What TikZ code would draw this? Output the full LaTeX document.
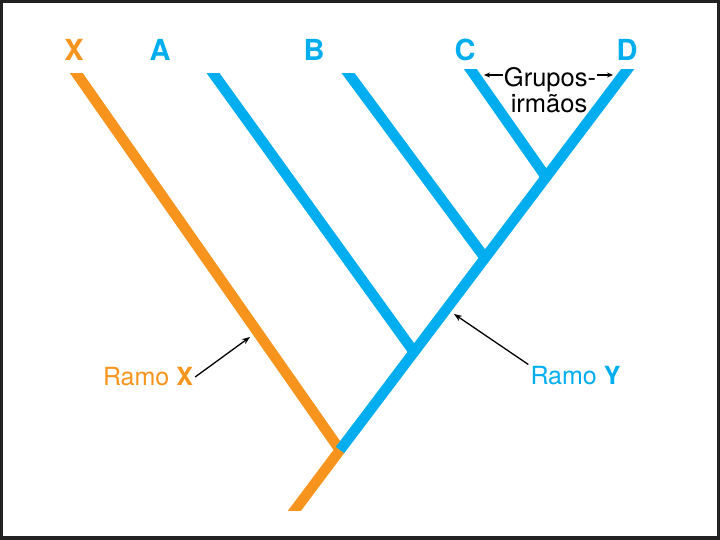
\documentclass[tikz,border=0pt]{standalone}
\usepackage{fontspec}
\setmainfont{TeX Gyre Heros}
\usetikzlibrary{arrows.meta,calc}
\definecolor{orX}{HTML}{F7941D}
\definecolor{blY}{HTML}{00AEEF}
\definecolor{framec}{HTML}{222222}
\begin{document}
\begin{tikzpicture}[x=1pt,y=-1pt,
  branch/.style={line width=10.5pt, line cap=butt},
  lbl/.style={font=\fontsize{29}{34}\selectfont\bfseries, inner sep=0pt},
  ramo/.style={font=\fontsize{25}{30}\selectfont, inner sep=2pt},
  grp/.style={font=\fontsize{25.5}{27}\selectfont, inner sep=1pt},
  pointer/.style={line width=1.3pt, -{Stealth[length=8pt,width=6pt]}},
  smallptr/.style={line width=1.1pt, -{Stealth[length=6pt,width=5pt]}}
]
\useasboundingbox (0,0) rectangle (720,540);
\fill[framec] (0,0) rectangle (720,540);
\fill[white] (3,3) rectangle (717,536);

\coordinate (Xt) at (67.2,60);
\coordinate (J) at (340,450);
\coordinate (R) at (287.5,520);
\coordinate (At) at (203.6,60);
\coordinate (Aj) at (414,352);
\coordinate (Bt) at (338.4,60);
\coordinate (Bj) at (485,258);
\coordinate (Ct) at (464,60);
\coordinate (Cj) at (546,177);
\coordinate (Dt) at (634.5,60);

\begin{scope}
  \clip (0,73.5) rectangle (720,510);
  \draw[branch, orX, line join=round] (Xt) -- (J) -- (R);
  \draw[branch, blY] (At) -- (Aj);
  \draw[branch, blY] (Bt) -- (Bj);
\end{scope}
\begin{scope}
  \clip (0,70) rectangle (720,510);
  \draw[branch, blY] (Ct) -- (Cj);
  \draw[branch, blY] (J) -- (Dt);
\end{scope}

\node[lbl, orX] (lX) at (74,50) {X};
\node[lbl, blY] (lA) at (160,50) {A};
\node[lbl, blY] (lB) at (314,50) {B};
\node[lbl, blY] (lC) at (465,50) {C};
\node[lbl, blY] (lD) at (627,50) {D};

\node[grp, anchor=base] (g1) at (550,87) {Grupos-};
\node[grp, anchor=base] (g2) at (549,113) {irmãos};
\coordinate (gl) at (484,75);
\coordinate (gr) at (613,75);
\draw[smallptr] (g1.west |- gl) -- (gl);
\draw[smallptr] (g1.east |- gr) -- (gr);

\node[ramo, orX] (rX) at (148,377) {Ramo \textbf{X}};
\coordinate (tX) at (250,337);
\draw[pointer] (rX.east) -- (tX);

\node[ramo, blY] (rY) at (575.5,376) {Ramo \textbf{Y}};
\coordinate (tY) at (454,314);
\draw[pointer] (rY.north west) -- (tY);
\end{tikzpicture}
\end{document}
